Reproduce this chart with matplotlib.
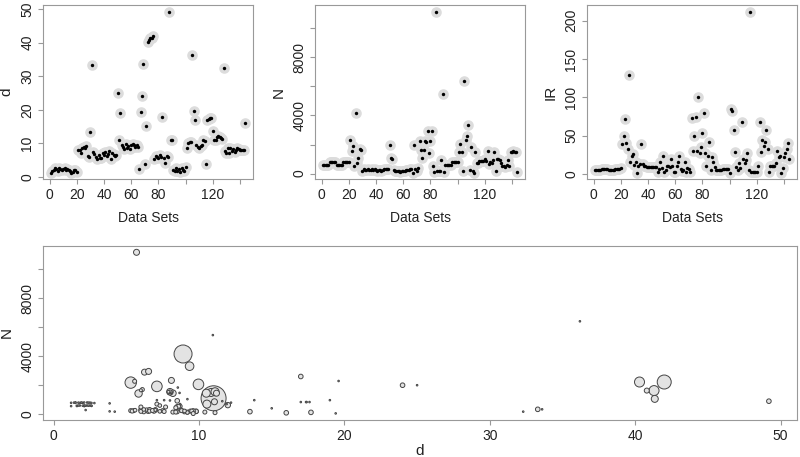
import numpy as np
import matplotlib
matplotlib.use("Agg")
import matplotlib.pyplot as plt

plt.rcParams['font.family'] = ['Liberation Sans', 'DejaVu Sans']

# per data set: dimensionality d, size N, imbalance ratio IR
d = ([1.2, 1.6, 2.1, 2.6, 2.2, 1.8, 2.5, 2.4, 1.9, 2.3, 2.6, 2.0, 2.4, 2.1, 1.7, 1.2, 1.4, 1.9, 2.1, 1.5]
     + [8.1, 8.0, 7.1, 8.5, 8.9, 8.7, 9.2, 6.1, 6.0]
     + [13.5, 33.3]
     + [7.5, 6.8, 6.0, 5.4, 6.5, 5.6, 5.5, 7.0, 6.6, 7.3, 6.2, 6.9, 7.6, 5.3, 7.0, 6.6, 6.2, 6.4]
     + [25.0, 11.0, 19.0]
     + [9.4, 9.0, 8.2, 9.8, 8.5, 9.2, 8.4, 9.6, 9.8, 9.5, 9.0, 9.6, 8.8]
     + [2.2, 19.4, 24.0, 33.6, 3.85, 15.0]
     + [40.3, 40.8, 41.35, 41.3, 42.0]
     + [5.3, 6.25, 5.84, 5.57, 6.53, 6.0, 17.7, 5.7, 4.2, 6.2, 6.0, 49.2, 10.95, 11.1]
     + [2.1, 1.6, 2.5, 1.8, 2.3, 1.5, 2.6, 2.0, 1.7, 2.8]
     + [8.66, 9.96, 10.5, 10.4, 36.2, 19.6, 17.0, 9.35, 8.8, 8.54, 9.2, 9.6]
     + [10.83, 10.54, 3.85, 17.0, 17.36, 17.6, 17.4, 13.8, 11.06, 11.1, 11.98, 12.2, 11.9, 11.6, 11.2, 32.3]
     + [7.6, 7.1, 8.5, 7.1, 8.7, 7.7, 8.4, 7.3, 8.0, 8.6, 8.2, 8.0, 7.9, 8.1, 8.0, 16.0])

N = ([560, 570, 580, 580, 590, 780, 800, 800, 800, 810, 580, 590, 590, 600, 600, 790, 800, 800, 810, 820]
     + [2330, 1550, 1920, 500, 4150, 700, 1040, 1700, 1650]
     + [180, 340]
     + [250, 260, 300, 220, 230, 280, 250, 300, 220, 200, 260, 220, 190, 250, 300, 330, 330, 300]
     + [2000, 1100, 970]
     + [220, 180, 150, 200, 170, 120, 150, 160, 200, 220, 230, 250, 280]
     + [290, 60, 2000, 340, 200, 410]
     + [2220, 1630, 1060, 1630, 2220]
     + [2180, 2900, 1430, 2270, 2950, 500, 130, 11150, 180, 170, 200, 900, 5450, 110]
     + [560, 580, 600, 600, 600, 780, 780, 790, 800, 770]
     + [1470, 2060, 1450, 150, 6400, 2290, 2600, 3310, 250, 1840, 150, 50]
     + [1500, 700, 750, 840, 840, 840, 840, 970, 860, 1550, 630, 800, 700, 900, 1450, 180]
     + [970, 970, 925, 700, 550, 500, 450, 600, 950, 550, 1450, 1500, 1540, 1480, 1470, 100])

IR = ([5.1, 5.3, 5.5, 5.5, 5.6, 6.0, 6.5, 7.0, 7.0, 7.0, 5.2, 5.0, 5.5, 5.5, 5.5, 6.3, 6.8, 7.0, 7.0, 7.2]
      + [39, 50, 72, 40, 32, 129, 16, 24, 26, 12, 16, 1.5, 10, 13, 39, 13]
      + [10, 10, 9.5, 9.5, 9.5, 9.5, 9.5, 9.5, 9.5, 9.5]
      + [3, 6, 15, 8, 24, 3, 5, 11, 10, 9, 20, 10, 3, 2, 10, 15, 23, 6, 4, 5, 15, 2, 8, 7, 2]
      + [73.5, 30, 49, 75, 30, 100, 27, 35, 53, 80, 27, 11, 24, 42, 5, 22, 15, 9]
      + [5, 5, 5, 5.5, 5.5, 6, 6.5, 7, 7, 7]
      + [1.5]
      + [85, 82, 58, 29, 9, 5, 14, 8, 68, 20, 14, 18, 27, 5, 212]
      + [3, 2.5, 2.5, 3, 3, 10, 68, 29, 45, 36, 42, 58, 33, 2]
      + [10, 10, 10, 10, 14, 30, 22, 24, 1.5, 8, 22, 27, 32, 41, 19])

# third quantity shown as circle size in the bottom panel
w = ([0.8] * 20
     + [3.0, 3.3, 5.3, 2.5, 9.0, 0.8, 0.8, 2.0, 1.5]
     + [2.3, 2.3]
     + [2.0, 2.0, 2.2, 2.0, 2.5, 1.8, 2.0, 2.3, 2.0, 1.8, 2.0, 2.2, 2.0, 2.0, 1.5, 2.0, 1.8, 2.0]
     + [0.8, 12.5, 0.8]
     + [2.0, 2.2, 2.0, 2.3, 2.0, 1.8, 2.0, 2.0, 2.2, 2.0, 1.8, 2.0, 2.0]
     + [0.8, 0.8, 2.3, 0.8, 0.8, 0.8]
     + [5.0, 2.5, 3.5, 5.0, 7.0]
     + [5.7, 3.0, 3.7, 2.0, 3.0, 2.0, 2.3, 3.0, 0.8, 2.0, 2.0, 2.3, 0.8, 2.0]
     + [0.8] * 10
     + [0.8, 5.3, 4.0, 2.0, 0.8, 0.8, 2.3, 4.3, 2.0, 0.8, 2.0, 2.0]
     + [4.0, 4.0, 0.8, 0.8, 0.8, 0.8, 0.8, 0.8, 3.0, 4.0, 2.7, 0.8, 0.8, 0.8, 3.0, 0.8]
     + [0.8, 0.8, 2.3, 2.0, 2.0, 2.0, 2.0, 1.8, 0.8, 2.0, 3.3, 2.5, 1.5, 0.8, 0.8, 2.3])

assert len(d) == len(N) == len(IR) == len(w) == 144
sets = np.arange(1, len(d) + 1)

spine_col = "#999999"
txt_col = "#222222"
fs = 10


def style(ax, lab_x):
    for s in ax.spines.values():
        s.set_color(spine_col)
    ax.tick_params(colors=spine_col, labelcolor=txt_col, labelsize=fs, length=3.5, pad=3)
    for lab in ax.get_yticklabels():
        lab.set_rotation(90)
        lab.set_va("center")
    ax.yaxis.set_label_coords(lab_x, 0.5)


fig = plt.figure(figsize=(8, 4.57), dpi=100)

panels = [(d, "d", 0.054, [0, 10, 20, 30, 40, 50], None),
          (N, "N", 0.394, np.arange(0, 10001, 2000), ["0", "", "4000", "", "8000", ""]),
          (IR, "IR", 0.734, [0, 50, 100, 150, 200], None)]

for vals, name, left, yt, ylab in panels:
    ax = fig.add_axes([left, 0.6077, 0.2625, 0.381])
    ax.scatter(sets, vals, s=58, color="#dcdcdc", lw=0, zorder=2)
    ax.scatter(sets, vals, s=6, color="black", lw=0, zorder=3)
    lo, hi = min(vals), max(vals)
    pad = 0.04 * (hi - lo)
    ax.set_ylim(lo - pad, hi + pad)
    ax.set_xlim(1 - 0.04 * 143, 144 + 0.04 * 143)
    ax.set_xticks(np.arange(0, 141, 20))
    ax.set_xticklabels(["0", "20", "40", "60", "80", "", "120", ""])
    ax.set_yticks(yt)
    if ylab is not None:
        ax.set_yticklabels(ylab)
    ax.set_ylabel(name, fontsize=fs + 1, color=txt_col)
    ax.set_xlabel("Data Sets", fontsize=fs, color=txt_col, labelpad=6)
    style(ax, -0.14)

# bottom: d vs N, circle size from w
ax = fig.add_axes([0.054, 0.081, 0.942, 0.381])
order = np.argsort(w)[::-1]
dd = np.array(d)[order]
nn = np.array(N)[order]
rr = np.array(w)[order] * 0.72
ax.scatter(dd, nn, s=(2 * rr) ** 2, facecolor="#e3e3e3", edgecolor="#444444",
           linewidths=0.7, zorder=2)
lo, hi = min(d), max(d)
ax.set_xlim(lo - 0.04 * (hi - lo), hi + 0.04 * (hi - lo))
lo, hi = min(N), max(N)
ax.set_ylim(lo - 0.04 * (hi - lo), hi + 0.04 * (hi - lo))
ax.set_xticks([0, 10, 20, 30, 40, 50])
ax.set_yticks(np.arange(0, 10001, 2000))
ax.set_yticklabels(["0", "", "4000", "", "8000", ""])
ax.set_xlabel("d", fontsize=fs + 1, color=txt_col, labelpad=1)
ax.set_ylabel("N", fontsize=fs + 1, color=txt_col)
style(ax, -0.039)

fig.savefig("out.png", dpi=100)
